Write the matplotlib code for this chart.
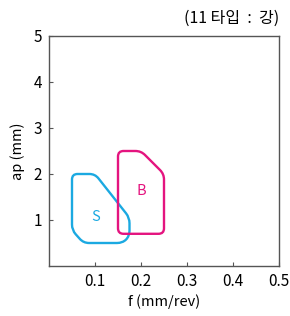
import numpy as np
import matplotlib
matplotlib.use("Agg")
import matplotlib.pyplot as plt
from matplotlib.path import Path
from matplotlib.patches import PathPatch

plt.rcParams['font.family'] = ['Noto Sans CJK KR', 'DejaVu Sans']

# Region outlines (f in mm/rev, ap in mm)
s_f = [0.05, 0.05, 0.10, 0.175, 0.175, 0.16, 0.075]
s_ap = [0.78, 2.0, 2.0, 1.05, 0.65, 0.5, 0.5]
b_f = [0.15, 0.15, 0.20, 0.25, 0.25]
b_ap = [0.7, 2.5, 2.5, 2.0, 0.7]
labels = ["S", "B"]
label_f = [0.102, 0.20]
label_ap = [1.07, 1.64]
x_ticks = [0.1, 0.2, 0.3, 0.4, 0.5]
y_ticks = [1, 2, 3, 4, 5]
cyan = "#1BA9E1"
magenta = "#E4147F"


def rounded_path(xs, ys, r=0.12, xscale=10.0):
    # round the corners in a space where x and y have equal pixel size
    pts = np.column_stack([np.array(xs) * xscale, ys])
    n = len(pts)
    verts, codes = [], []
    for i in range(n):
        p = pts[i]
        a = pts[i - 1]
        b = pts[(i + 1) % n]
        da = (a - p) / np.linalg.norm(a - p)
        db = (b - p) / np.linalg.norm(b - p)
        ra = min(r, np.linalg.norm(a - p) / 2)
        rb = min(r, np.linalg.norm(b - p) / 2)
        p1 = p + da * ra
        p2 = p + db * rb
        verts.append(p1)
        codes.append(Path.MOVETO if i == 0 else Path.LINETO)
        verts += [p, p2]
        codes += [Path.CURVE3, Path.CURVE3]
    verts.append(verts[0])
    codes.append(Path.CLOSEPOLY)
    verts = np.array(verts)
    verts[:, 0] /= xscale
    return Path(verts, codes)


fig = plt.figure(figsize=(2.9, 3.16), dpi=100)
ax = fig.add_axes([49 / 290, 1 - 266 / 316, 230 / 290, 230 / 316])

ax.add_patch(PathPatch(rounded_path(s_f, s_ap), fill=False, edgecolor=cyan, lw=1.7))
ax.add_patch(PathPatch(rounded_path(b_f, b_ap), fill=False, edgecolor=magenta, lw=1.7))
for lab, fx, ay, c in zip(labels, label_f, label_ap, [cyan, magenta]):
    ax.text(fx, ay, lab, color=c, fontsize=10.5, ha="center", va="center")

ax.set_xlim(0, 0.5)
ax.set_ylim(0, 5)
ax.set_xticks(x_ticks)
ax.set_yticks(y_ticks)
ax.set_xticklabels([f"{v:.1f}" for v in x_ticks])
ax.tick_params(direction="in", length=3, color="#555555", labelsize=11, pad=5)
for sp in ax.spines.values():
    sp.set_color("#555555")
    sp.set_linewidth(1.0)

ax.set_xlabel("f (mm/rev)", fontsize=10.5, labelpad=3)
ax.set_ylabel("ap (mm)", fontsize=10.5, labelpad=6)
fig.text(279 / 290, 1 - 18 / 316, "(11 타입  :  강)", ha="right", va="center", fontsize=11.5)

fig.savefig("out.png", dpi=100)
